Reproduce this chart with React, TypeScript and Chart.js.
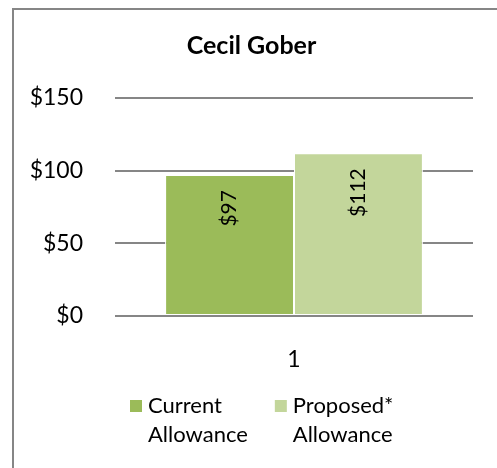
import React, { useEffect, useRef } from "react";
import { Chart, registerables } from "chart.js";

Chart.register(...registerables);

const categories = ["1"];
const currentAllowance = [97];
const proposedAllowance = [112];
const seriesLabels = [["Current", "Allowance"], ["Proposed*", "Allowance"]];
const seriesColors = ["#9BBB59", "#C3D69B"];
const chartTitle = "Cecil Gober";
const yMin = 0;
const yMax = 150;
const yStep = 50;

const FONT = "Lato, 'Open Sans', sans-serif";

const barLabelPlugin = {
  id: "barLabels",
  afterDatasetsDraw(chart: any) {
    const ctx = chart.ctx;
    ctx.save();
    ctx.font = `21px ${FONT}`;
    ctx.fillStyle = "#000";
    ctx.textAlign = "right";
    ctx.textBaseline = "middle";
    chart.data.datasets.forEach((ds: any, di: number) => {
      const meta = chart.getDatasetMeta(di);
      meta.data.forEach((el: any, i: number) => {
        const v = ds.data[i];
        ctx.save();
        ctx.translate(el.x, el.y + 15);
        ctx.rotate(-Math.PI / 2);
        ctx.fillText("$" + v, 0, 0);
        ctx.restore();
      });
    });
    ctx.restore();
  },
};

const legendPlugin = {
  id: "customLegend",
  afterDraw(chart: any) {
    const ctx = chart.ctx;
    const area = chart.chartArea;
    const box = 12;
    const textGap = 6;
    const itemGap = 27;
    const lineH = 29;
    const top = area.bottom + 84;
    let x = area.left + 15;
    ctx.save();
    ctx.font = `22px ${FONT}`;
    ctx.textBaseline = "middle";
    ctx.textAlign = "left";
    chart.data.datasets.forEach((ds: any) => {
      const lines: string[] = Array.isArray(ds.label) ? ds.label : [ds.label];
      ctx.fillStyle = ds.backgroundColor;
      ctx.fillRect(x, top, box, box);
      ctx.fillStyle = "#000";
      let maxW = 0;
      lines.forEach((ln, li) => {
        ctx.fillText(ln, x + box + textGap, top + box / 2 + li * lineH);
        maxW = Math.max(maxW, ctx.measureText(ln).width);
      });
      x += box + textGap + maxW + itemGap;
    });
    ctx.restore();
  },
};

export default function App() {
  const ref = useRef<HTMLCanvasElement>(null);
  useEffect(() => {
    if (!ref.current) return;
    const chart = new Chart(ref.current, {
      type: "bar",
      data: {
        labels: categories,
        datasets: [
          {
            label: seriesLabels[0] as any,
            data: currentAllowance,
            backgroundColor: seriesColors[0],
            borderColor: "#FFFFFF",
            borderWidth: 1,
            borderSkipped: false as any,
          },
          {
            label: seriesLabels[1] as any,
            data: proposedAllowance,
            backgroundColor: seriesColors[1],
            borderColor: "#FFFFFF",
            borderWidth: 1,
            borderSkipped: false as any,
          },
        ],
      },
      options: {
        responsive: false,
        animation: false,
        devicePixelRatio: 1,
        layout: { padding: { left: 30, right: 24, top: 0, bottom: 90 } },
        datasets: { bar: { barPercentage: 1, categoryPercentage: 0.72 } } as any,
        plugins: {
          tooltip: { enabled: false },
          legend: { display: false },
          title: {
            display: true,
            text: chartTitle,
            color: "#000",
            font: { family: FONT, size: 25, weight: "bold", lineHeight: 1.2 },
            padding: { top: 31, bottom: 37 },
          },
        },
        scales: {
          x: {
            grid: { display: false },
            border: { display: false },
            ticks: { color: "#000", font: { family: FONT, size: 23 }, padding: 22 },
            afterFit(scale: any) {
              scale.height = 62;
            },
          },
          y: {
            min: yMin,
            max: yMax,
            grid: { color: "#868686", lineWidth: 2, drawTicks: false },
            border: { display: false },
            ticks: {
              stepSize: yStep,
              color: "#000",
              font: { family: FONT, size: 23 },
              padding: 32,
              callback: (v: any) => "$" + v,
            },
            afterFit(scale: any) {
              scale.width = 85;
            },
          },
        },
      },
      plugins: [barLabelPlugin, legendPlugin],
    });
    return () => chart.destroy();
  }, []);

  return (
    <div style={{ position: "fixed", left: 0, top: 0, width: 497, height: 468, overflow: "hidden", background: "#fff" }}>
      <canvas ref={ref} width={497} height={468} style={{ width: 497, height: 468, display: "block" }} />
      <div
        style={{
          position: "absolute",
          left: 12,
          top: 8,
          right: -10,
          bottom: -10,
          borderLeft: "2px solid #868686",
          borderTop: "2px solid #868686",
          pointerEvents: "none",
        }}
      />
    </div>
  );
}
